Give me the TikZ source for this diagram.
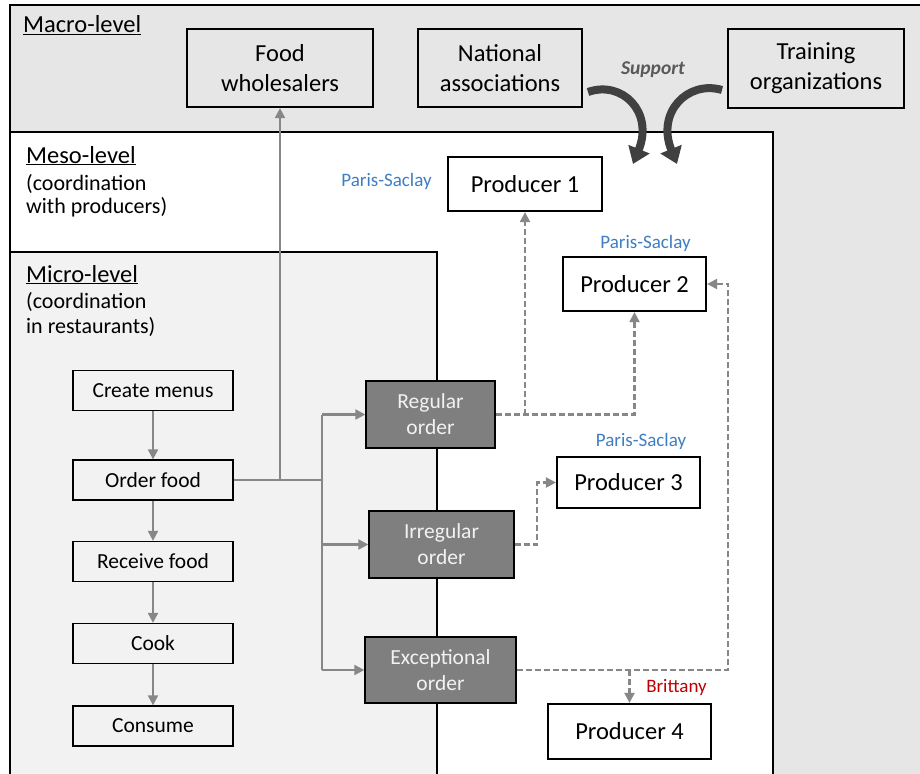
\documentclass[tikz,border=0pt]{standalone}
\usepackage{fontspec}
\setmainfont{Carlito}
\usetikzlibrary{arrows.meta}
\definecolor{macrofill}{RGB}{230,230,230}
\definecolor{microfill}{RGB}{242,242,242}
\definecolor{ordfill}{RGB}{127,127,127}
\definecolor{conncol}{RGB}{135,135,135}
\definecolor{psblue}{RGB}{62,126,196}
\definecolor{brred}{RGB}{192,0,0}
\definecolor{suppcol}{RGB}{64,64,64}
\definecolor{supptext}{RGB}{89,89,89}
\begin{document}
\begin{tikzpicture}[x=1pt,y=-1pt,
 bigbox/.style={draw=black, line width=2.2pt, inner sep=0pt, align=center, font=\fontsize{24.5}{30}\selectfont},
 prodbox/.style={bigbox, fill=white},
 flowbox/.style={draw=black, line width=1.3pt, inner sep=0pt, font=\fontsize{21.5}{26}\selectfont, minimum width=160pt, minimum height=40pt},
 orderbox/.style={draw=black, line width=1.3pt, fill=ordfill, text=white!95!black, align=center, inner sep=0pt, font=\fontsize{21.5}{26}\selectfont},
 conn/.style={draw=conncol, line width=2.1pt},
 arr/.style={conn, -{Triangle[length=10pt,width=10pt]}},
 dashconn/.style={arr, dash pattern=on 6pt off 3pt},
 lvl/.style={anchor=base west, inner sep=0pt, font=\fontsize{24.5}{30}\selectfont},
 subtxt/.style={anchor=base west, inner sep=0pt, font=\fontsize{22}{26}\selectfont},
 loc/.style={inner sep=0pt, font=\fontsize{19}{22}\selectfont},
 supparr/.style={draw=suppcol, line width=8pt, -{Triangle[length=16pt,width=22pt]}},
]
\useasboundingbox (0,0) rectangle (920,773);
\clip (0,0) rectangle (920,773);
% level areas
\draw[fill=macrofill, line width=2pt] (10,5) rectangle (940,800);
\draw[fill=white, line width=2pt] (10,132) rectangle (773,800);
\draw[fill=microfill, line width=2pt] (10,252) rectangle (437,800);

% headings
\node[lvl] (macro) at (23,33) {\underline{Macro-level}};
\node[lvl] (meso) at (26,163) {\underline{Meso-level}};
\node[subtxt] (meso2) at (26,190) {(coordination};
\node[subtxt] (meso3) at (26,213) {with producers)};
\node[lvl] (micro) at (26,282) {\underline{Micro-level}};
\node[subtxt] (micro2) at (26,308) {(coordination};
\node[subtxt] (micro3) at (26,333) {in restaurants)};

% macro nodes
\node[bigbox, minimum width=186pt, minimum height=78pt] (wh) at (280,68) {Food\\wholesalers};
\node[bigbox, minimum width=164pt, minimum height=78pt] (na) at (500,68) {National\\associations};
\node[bigbox, minimum width=176pt, minimum height=79pt] (tr) at (816,68.5) {Training\\organizations};

% producers
\node[prodbox, minimum width=154pt, minimum height=54pt] (p1) at (525,184) {Producer 1};
\node[prodbox, minimum width=143pt, minimum height=54pt] (p2) at (634.5,284) {Producer 2};
\node[prodbox, minimum width=143pt, minimum height=51pt] (p3) at (628.5,482.5) {Producer 3};
\node[prodbox, minimum width=163pt, minimum height=55pt] (p4) at (629.5,731.5) {Producer 4};

% location labels
\node[loc, text=psblue] (ps1) at (386.5,181) {Paris-Saclay};
\node[loc, text=psblue] (ps2) at (645.5,243) {Paris-Saclay};
\node[loc, text=psblue] (ps3) at (641,441) {Paris-Saclay};
\node[loc, text=brred] (br) at (676.5,687) {Brittany};

% micro flow
\node[flowbox] (cm) at (153,390.5) {Create menus};
\node[flowbox] (of) at (153,480) {Order food};
\node[flowbox] (rf) at (153,561.5) {Receive food};
\node[flowbox] (ck) at (153,643.5) {Cook};
\node[flowbox] (cs) at (153,726) {Consume};
\draw[arr] (cm.south) -- (of.north);
\draw[arr] (of.south) -- (rf.north);
\draw[arr] (rf.south) -- (ck.north);
\draw[arr] (ck.south) -- (cs.north);

% orders
\node[orderbox, minimum width=129pt, minimum height=67pt] (reg) at (430.5,414.5) {Regular\\order};
\node[orderbox, minimum width=145pt, minimum height=67pt] (irr) at (441.5,544.5) {Irregular\\order};
\node[orderbox, minimum width=151pt, minimum height=66pt] (exc) at (440.5,670) {Exceptional\\order};

\coordinate (j) at (322,480);
\draw[conn] (of.east) -- (j);
\draw[arr] (of.east -| wh.south) -- (wh.south);
\draw[conn] (j |- reg.west) -- (j |- exc.west);
\draw[arr] (j |- reg.west) -- (reg.west);
\draw[arr] (j |- irr.west) -- (irr.west);
\draw[arr] (j |- exc.west) -- (exc.west);

% dashed order links
\draw[dashconn] (reg.east) -| (p2.south);
\draw[dashconn] (reg.east -| p1.south) -- (p1.south);
\draw[dashconn] (irr.east) -- ++(22,0) |- (p3.west);
\draw[dashconn] (exc.east) -| ([xshift=21pt]p2.east) -- (p2.east);
\draw[dashconn] (exc.east -| p4.north) -- (p4.north);

% support
\node[inner sep=0pt, text=supptext, font=\fontsize{19.5}{22}\selectfont\bfseries\itshape] (sup) at (653,70) {Support};
\coordinate (s1) at (588,92);
\coordinate (t1) at (633,164);
\coordinate (s2) at (722,90);
\coordinate (t2) at (677,164);
\draw[supparr] (s1) .. controls (622,80) and (654,112) .. (t1);
\draw[supparr] (s2) .. controls (688,80) and (656,112) .. (t2);
\end{tikzpicture}
\end{document}
